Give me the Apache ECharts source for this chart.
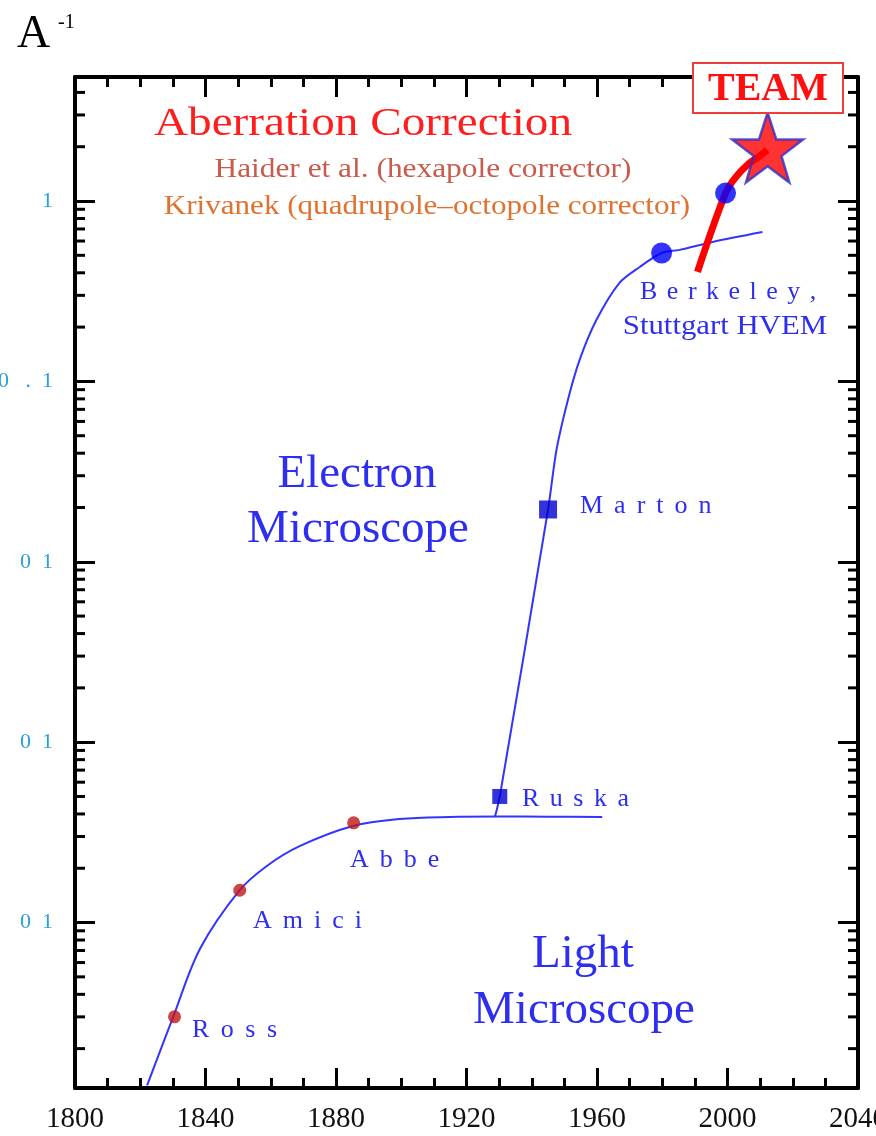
<!DOCTYPE html>
<html><head><meta charset="utf-8">
<script src="https://cdn.jsdelivr.net/npm/echarts@6/dist/echarts.min.js"></script>
<style>html,body{margin:0;padding:0;background:#fff}#c{width:876px;height:1136px}</style>
</head><body><div id="c"></div>
<script>
// ---------------- data ----------------
const xMin = 1800, xMax = 2040, xStep = 40;
const yMin = 1.21e-5, yMax = 4.87;
const yTickValues = [1, 0.1, 0.01, 0.001, 0.0001];
const yTickLabels = ['1', '0   .  1', '0  1', '0  1', '0  1'];

// light microscope resolution curve
const lightYears  = [1822.1, 1830.1, 1838.4, 1850.3, 1858.8, 1869.0, 1885.2, 1899.5, 1914.8, 1930.0, 1945.0, 1961.6];
const lightValues = [1.25e-5, 3.0e-5, 7.2e-5, 1.5e-4, 2.06e-4, 2.66e-4, 3.43e-4, 3.75e-4, 3.85e-4, 3.87e-4, 3.86e-4, 3.85e-4];

// electron microscope resolution curve
const electronYears  = [1928.7, 1930.2, 1945.0, 1947.6, 1951.1, 1954.7, 1959.8, 1966.9, 1973.1, 1979.8, 1985.3, 1995.4, 2010.7];
const electronValues = [3.85e-4, 5.0e-4, 0.0195, 0.0419, 0.0792, 0.132, 0.219, 0.352, 0.431, 0.515, 0.536, 0.593, 0.673];

// aberration-corrected (TEAM) curve
const teamYears  = [1990.8, 1999.4, 2002.6, 2006.7, 2009.8, 2012.2];
const teamValues = [0.405, 1.107, 1.36, 1.62, 1.77, 1.92];

// milestones
const lightNames  = ['Ross', 'Amici', 'Abbe'];
const lightMarkYears  = [1830.5, 1850.5, 1885.4];
const lightMarkValues = [3.0e-5, 1.51e-4, 3.57e-4];

const squareNames = ['Ruska', 'Marton'];
const squareYears  = [1930.2, 1945.0];
const squareValues = [5.0e-4, 0.0195];

const circleNames = ['Berkeley, Stuttgart HVEM', 'Aberration corrected'];
const circleYears  = [1979.8, 1999.4];
const circleValues = [0.515, 1.107];

const starYears  = [2012.3];
const starValues = [1.98];

// ---------------- helpers ----------------
const zip = (xs, ys) => xs.map((x, i) => [x, ys[i]]);
const yMinorTicks = [];
for (let e = -5; e <= 0; e++) {
  for (let m = 2; m <= 9; m++) {
    const v = m * Math.pow(10, e);
    if (v > yMin && v < yMax) yMinorTicks.push([xMin, v]);
  }
}
const serif = 'Liberation Serif, Times New Roman, serif';
const blueText = '#2e2ef0';
const starPath = 'path://M50,0 L61.8,35.1 L98.1,35.1 L68.8,56.7 L79.4,91 L50,70 L20.6,91 L31.2,56.7 L1.9,35.1 L38.2,35.1 Z';

const axisLineStyle = { color: '#000', width: 4 };
const tickStyle = { color: '#000', width: 3 };

function xAxisCfg(pos, showLabel) {
  return {
    type: 'value', position: pos, min: xMin, max: xMax, interval: xStep,
    axisLine: { show: true, onZero: false, lineStyle: axisLineStyle },
    axisTick: { show: true, inside: true, length: 20, lineStyle: tickStyle },
    minorTick: { show: true, splitNumber: 4, length: 10, lineStyle: tickStyle },
    splitLine: { show: false },
    axisLabel: {
      show: showLabel, color: '#111', fontFamily: serif, fontSize: 29, margin: 17,
      hideOverlap: false,
      formatter: v => String(v)
    }
  };
}
function yAxisCfg(pos, showLabel) {
  return {
    type: 'log', logBase: 10, position: pos, min: yMin, max: yMax,
    axisLine: { show: true, onZero: false, lineStyle: axisLineStyle },
    axisTick: { show: true, inside: true, length: 20, lineStyle: tickStyle },
    splitLine: { show: false },
    axisLabel: {
      show: showLabel, color: '#2a9fd6', fontFamily: serif, fontSize: 22, margin: 22,
      showMinLabel: false, showMaxLabel: false, hideOverlap: false,
      formatter: v => {
        const i = yTickValues.findIndex(t => Math.abs(Math.log10(v) - Math.log10(t)) < 1e-6);
        return i >= 0 ? yTickLabels[i] : '';
      }
    }
  };
}

function txt(text, x, y, size, color, opts) {
  opts = opts || {};
  return {
    type: 'text', x: x, y: y, z: 100, scaleX: opts.scaleX || 1,
    style: {
      text: text, fill: color, fontFamily: serif, fontSize: size,
      fontWeight: opts.bold ? 'bold' : 'normal',
      align: opts.align || 'left', verticalAlign: 'middle'
    }
  };
}
// letter-spaced label built from rich-text tokens (one per letter)
function spaced(word, x, y, size, color, gap) {
  const rich = {};
  const parts = word.split('').map((ch, i) => {
    const key = 'c' + i;
    rich[key] = { fill: color, fontFamily: serif, fontSize: size, padding: [0, i === word.length - 1 ? 0 : gap, 0, 0] };
    return '{' + key + '|' + ch + '}';
  });
  return {
    type: 'text', x: x, y: y, z: 100,
    style: { text: parts.join(''), rich: rich, fill: color, fontFamily: serif, fontSize: size, align: 'left', verticalAlign: 'middle' }
  };
}

const chart = echarts.init(document.getElementById('c'), null, { renderer: 'canvas' });
chart.setOption({
  backgroundColor: '#fff',
  animation: false,
  grid: { left: 75, right: 18, top: 77, bottom: 48, containLabel: false, outerBoundsMode: 'none' },
  xAxis: [xAxisCfg('bottom', true), xAxisCfg('top', false)],
  yAxis: [yAxisCfg('left', true), yAxisCfg('right', false)],
  series: [
    {
      type: 'custom', name: 'minor ticks', silent: true, clip: false, z: 1,
      data: yMinorTicks,
      renderItem: (params, api) => {
        const v = api.value(1);
        const pL = api.coord([xMin, v]);
        const pR = api.coord([xMax, v]);
        return { type: 'group', children: [
          { type: 'line', shape: { x1: pL[0], y1: pL[1], x2: pL[0] + 10, y2: pL[1] }, style: { stroke: '#000', lineWidth: 3 } },
          { type: 'line', shape: { x1: pR[0], y1: pR[1], x2: pR[0] - 10, y2: pR[1] }, style: { stroke: '#000', lineWidth: 3 } }
        ] };
      }
    },
    {
      type: 'line', name: 'Light Microscope', data: zip(lightYears, lightValues),
      showSymbol: false, smooth: 0.35, lineStyle: { color: '#3434ff', width: 2 }, z: 2
    },
    {
      type: 'line', name: 'Electron Microscope', data: zip(electronYears, electronValues),
      showSymbol: false, smooth: 0.3, lineStyle: { color: '#3434ff', width: 2 }, z: 2
    },
    {
      type: 'line', name: 'TEAM', data: zip(teamYears, teamValues),
      showSymbol: false, smooth: 0.3, lineStyle: { color: '#ff0000', width: 7, cap: 'butt' }, z: 3
    },
    {
      type: 'scatter', name: 'light milestones', data: zip(lightMarkYears, lightMarkValues),
      symbol: 'circle', symbolSize: 13, itemStyle: { color: '#c01818' }, z: 4
    },
    {
      type: 'scatter', name: 'electron milestones', data: zip(squareYears, squareValues).map((d, i) => ({ value: d, symbolSize: i === 0 ? 15 : 18 })),
      symbol: 'rect', itemStyle: { color: '#0000d0' }, z: 4
    },
    {
      type: 'scatter', name: 'HVEM / corrected', data: zip(circleYears, circleValues),
      symbol: 'circle', symbolSize: 21, itemStyle: { color: '#0000ff' }, z: 5
    },
    {
      type: 'scatter', name: 'TEAM star', data: zip(starYears, starValues),
      symbol: starPath, symbolSize: [71, 70],
      itemStyle: { color: '#ff0000', borderColor: '#3030c8', borderWidth: 2.5 }, z: 6
    }
  ],
  graphic: [
    txt('A', 17, 35, 46, '#000'),
    txt('-1', 58, 23, 20, '#000'),
    txt('Aberration Correction', 363, 124, 40, '#ff1e1e', { align: 'center', scaleX: 1.18 }),
    txt('Haider et al. (hexapole corrector)', 423, 170, 28, '#c95a4c', { align: 'center', scaleX: 1.12 }),
    txt('Krivanek (quadrupole\u2013octopole corrector)', 427, 207, 28, '#e07230', { align: 'center', scaleX: 1.11 }),
    txt('Electron', 357, 475, 47, blueText, { align: 'center' }),
    txt('Microscope', 358, 530, 47, blueText, { align: 'center' }),
    txt('Light', 583, 955, 47, blueText, { align: 'center' }),
    txt('Microscope', 584, 1011, 47, blueText, { align: 'center' }),
    spaced('Ross', 192, 1030, 26, blueText, 11.5),
    spaced('Amici', 253, 921, 26, blueText, 11),
    spaced('Abbe', 350, 860, 26, blueText, 11),
    spaced('Ruska', 522, 799, 26, blueText, 10.5),
    spaced('Marton', 580, 506, 26, blueText, 11),
    spaced('Berkeley,', 640, 292, 26, blueText, 9.5),
    txt('Stuttgart HVEM', 725, 327, 28, blueText, { align: 'center', scaleX: 1.1 }),
    {
      type: 'group', x: 693, y: 63, z: 200,
      children: [
        { type: 'rect', shape: { x: 0, y: 0, width: 150, height: 50 }, style: { fill: '#fff', stroke: '#f03c3c', lineWidth: 2 }, z: 200 },
        { type: 'text', x: 75, y: 27, z: 201, style: { text: 'TEAM', fill: '#ff1010', fontFamily: serif, fontWeight: 'bold', fontSize: 40, align: 'center', verticalAlign: 'middle' } }
      ]
    }
  ]
});
</script></body></html>
